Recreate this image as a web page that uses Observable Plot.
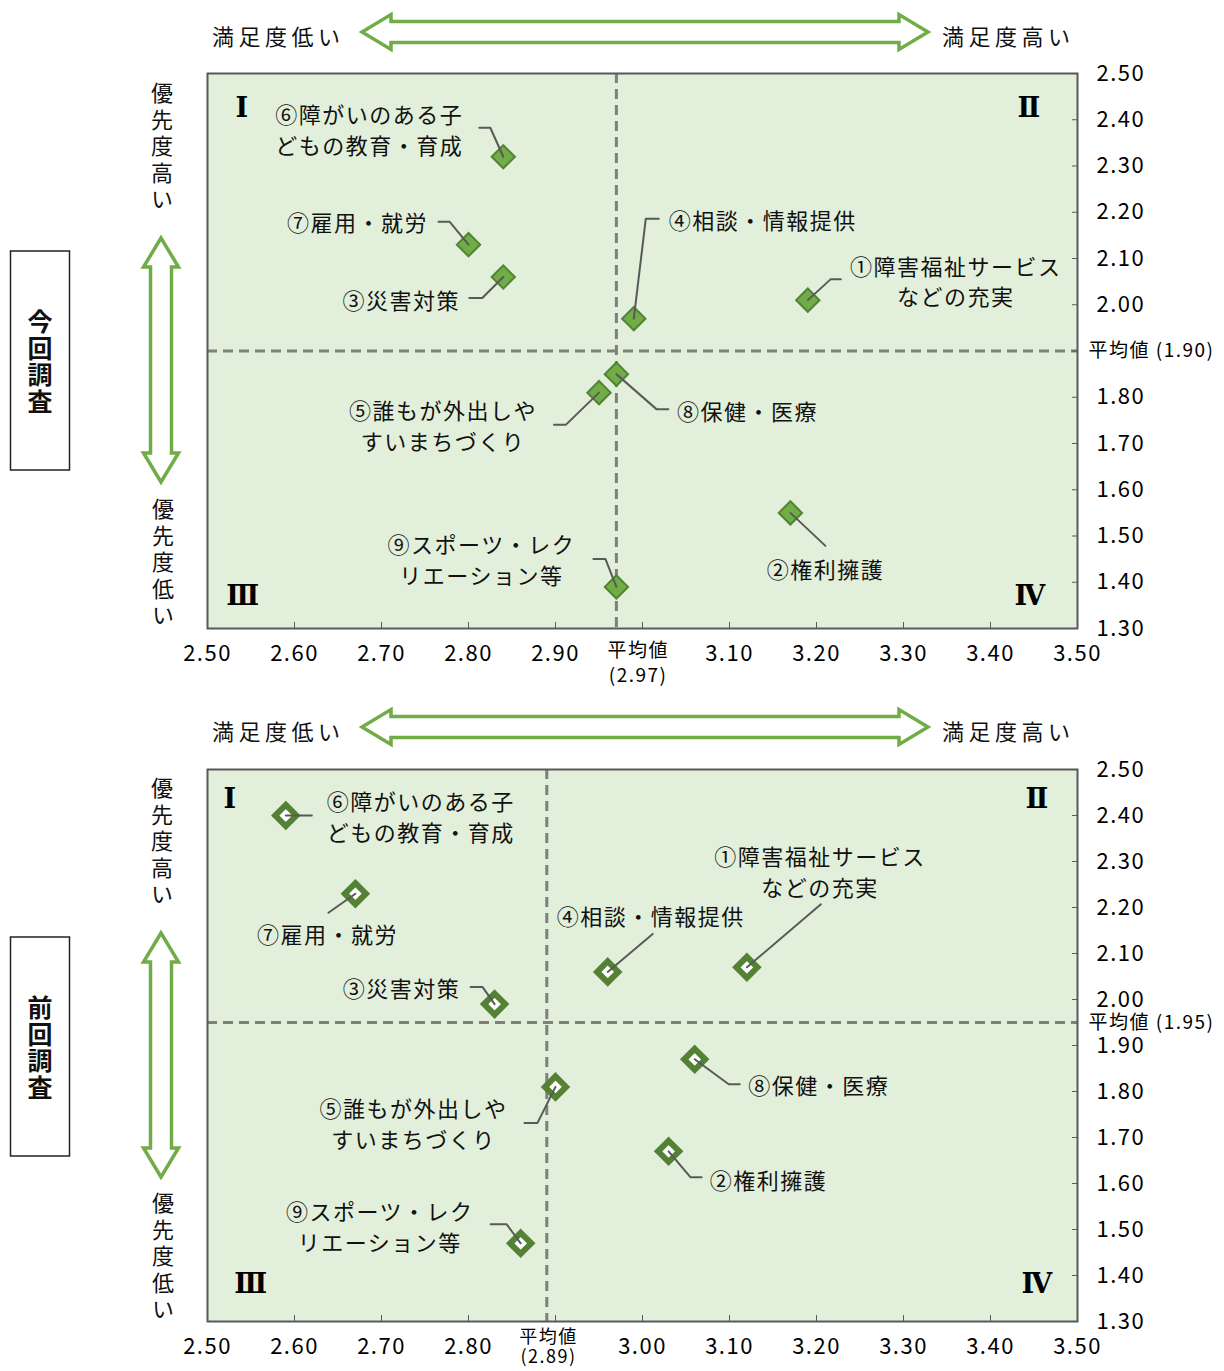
<!DOCTYPE html>
<html>
<head>
<meta charset="utf-8">
<script src="https://cdn.jsdelivr.net/npm/d3@7"></script>
<script src="https://cdn.jsdelivr.net/npm/@observablehq/plot@0.6"></script>
<style>
  body { margin: 0; background: #fff; }
  #page { position: relative; width: 1224px; height: 1371px; overflow: hidden; background: #fff;
          font-family: "Noto Sans CJK JP", sans-serif; }
  #page > svg { position: absolute; left: 0; }
  #page svg text { letter-spacing: 1.5px; }
</style>
</head>
<body>
<div id="page"></div>
<script>
// ---- data ----
const items = [
  "①障害福祉サービス\nなどの充実",
  "②権利擁護",
  "③災害対策",
  "④相談・情報提供",
  "⑤誰もが外出しや\nすいまちづくり",
  "⑥障がいのある子\nどもの教育・育成",
  "⑦雇用・就労",
  "⑧保健・医療",
  "⑨スポーツ・レク\nリエーション等"
];
// 今回調査 (current survey): satisfaction (x) and priority (y)
const currentSatisfaction = [3.19, 3.17, 2.84, 2.99, 2.95, 2.84, 2.80, 2.97, 2.97];
const currentPriority     = [2.01, 1.55, 2.06, 1.97, 1.81, 2.32, 2.13, 1.85, 1.39];
const currentMeans = [2.97, 1.90];   // [satisfaction mean, priority mean]
// 前回調査 (previous survey)
const previousSatisfaction = [3.12, 3.03, 2.83, 2.96, 2.90, 2.59, 2.67, 3.06, 2.86];
const previousPriority     = [2.07, 1.67, 1.99, 2.06, 1.81, 2.40, 2.23, 1.87, 1.47];
const previousMeans = [2.89, 1.95];
// axes
const xTicks = [2.5, 2.6, 2.7, 2.8, 2.9, 3.0, 3.1, 3.2, 3.3, 3.4, 3.5];
const yTicks = [1.3, 1.4, 1.5, 1.6, 1.7, 1.8, 1.9, 2.0, 2.1, 2.2, 2.3, 2.4, 2.5];
const quadrantNames = ["Ⅰ", "Ⅱ", "Ⅲ", "Ⅳ"];

// ---- layout (pixel offsets of labels / leader elbows relative to each point) ----
const currentLabelOffsets = [[148,-20],[35,55],[-102,22],[129,-99],[-156,32],[-134,-28],[-111,-23],[131,36],[-135,-28]];
const currentLeaders = [
  [[23,-21],[33,-21]], [[35,33]], [[-21,21],[-34,21]], [[12,-100],[25,-100]],
  [[-33,32],[-45,32]], [[-13,-29],[-24,-29]], [[-19,-23],[-30,-23]], [[40,35],[52,35]], [[-11,-28],[-23,-28]]
];
const previousLabelOffsets = [[73,-97],[100,28],[-93,-17],[43,-57],[-142,36],[135,0],[-28,39],[124,25],[-141,-18]];
const previousLeaders = [
  [[74,-63]], [[22,26],[33,26]], [[-12,-17],[-24,-17]], [[45,-38]],
  [[-18,36],[-31,36]], [[26,0]], [[-27,19]], [[34,25],[45,25]], [[-14,-19],[-30,-19]]
];

const FONT = '"Noto Sans CJK JP", "Noto Sans", sans-serif';
const W = 1224, ML = 207, MR = 147;
const xDomain = [2.5, 3.5], yDomain = [1.3, 2.5];

function makeChart(cfg) {
  const sx = Plot.scale({x: {domain: xDomain, range: [ML, W - MR]}});
  const sy = Plot.scale({y: {domain: yDomain, range: [cfg.height - cfg.marginBottom, cfg.marginTop]}});
  const at = (x, y, dx, dy) => ({x: sx.invert(sx.apply(x) + dx), y: sy.invert(sy.apply(y) + dy)});
  const rows = items.map((name, i) => ({name, x: cfg.sat[i], y: cfg.pri[i]}));
  const labels = rows.map((r, i) => ({text: r.name, ...at(r.x, r.y, ...cfg.labelOffsets[i])}));
  const leaders = rows.flatMap((r, i) =>
    [[0, 0], ...cfg.leaders[i]].map(([dx, dy]) => ({id: i, ...at(r.x, r.y, dx, dy)})));
  const fmt = d => d.toFixed(2);
  const skipFmt = v => d => (v != null && Math.abs(d - v) < 1e-6) ? "" : fmt(d);
  const q = cfg.quad;
  const anchors = ["top-left", "top-right", "bottom-left", "bottom-right"];
  const quadMarks = quadrantNames.map((name, i) => Plot.text([name], {
    text: d => d, frameAnchor: anchors[i], dx: q[i][0], dy: q[i][1],
    textAnchor: "middle", lineAnchor: "middle",
    fontFamily: "DejaVu Serif", fontWeight: "bold", fontSize: 27
  }));
  return Plot.plot({
    width: W, height: cfg.height,
    marginLeft: ML, marginRight: MR, marginTop: cfg.marginTop, marginBottom: cfg.marginBottom,
    x: {domain: xDomain}, y: {domain: yDomain},
    style: {fontFamily: FONT, fontSize: "22px", color: "#000", background: "none", overflow: "visible"},
    marks: [
      Plot.frame({fill: "#e2efda"}),
      Plot.ruleX([cfg.means[0]], {x: d => d, stroke: "#7f7f7f", strokeWidth: 3, strokeDasharray: "10,6"}),
      Plot.ruleY([cfg.means[1]], {y: d => d, stroke: "#7f7f7f", strokeWidth: 3, strokeDasharray: "10,6"}),
      Plot.axisX({ticks: xTicks, tickFormat: skipFmt(cfg.skipX), tickSize: -6, tickPadding: 23,
                  stroke: "#595959", label: null}),
      Plot.axisY({anchor: "right", ticks: yTicks, tickFormat: skipFmt(cfg.skipY), tickSize: -6, tickPadding: 25,
                  stroke: "#595959", label: null}),
      Plot.dot(rows, {x: "x", y: "y", symbol: "diamond2", r: cfg.r, fill: cfg.fill, stroke: "#548235", strokeWidth: cfg.sw}),
      Plot.line(leaders, {x: "x", y: "y", z: "id", stroke: "#595959", strokeWidth: 2}),
      Plot.text(labels, {x: "x", y: "y", text: "text", lineHeight: 1.4, fill: "#111"}),
      ...quadMarks,
      // mean labels
      Plot.text([cfg.means[1]], {y: d => d, frameAnchor: "right", dx: 11, textAnchor: "start",
                                  text: d => `平均値 (${d.toFixed(2)})`, fontSize: 19}),
      Plot.text([cfg.means[0]], {x: () => cfg.meanLabelX, frameAnchor: "bottom", dy: cfg.meanLabelDy, lineAnchor: "top",
                                  lineHeight: cfg.meanLineHeight, text: d => `平均値\n(${d.toFixed(2)})`,
                                  fontSize: cfg.meanFont}),
      Plot.frame({stroke: "#595959", strokeWidth: 2})
    ]
  });
}

const page = document.getElementById("page");

const chartCurrent = makeChart({
  sat: currentSatisfaction, pri: currentPriority, means: currentMeans,
  height: 695, marginTop: 73, marginBottom: 67,
  labelOffsets: currentLabelOffsets, leaders: currentLeaders,
  r: 10.5, fill: "#70ad47", sw: 2,
  skipX: 3.0, skipY: 1.9,
  quad: [[35, 35], [-48, 35], [36, -32], [-47, -32]],
  meanLabelX: 2.995, meanLabelDy: 11, meanLineHeight: 1.3, meanFont: 19
});
chartCurrent.style.top = "0px";
page.appendChild(chartCurrent);

const chartPrevious = makeChart({
  sat: previousSatisfaction, pri: previousPriority, means: previousMeans,
  height: 676, marginTop: 74, marginBottom: 50,
  labelOffsets: previousLabelOffsets, leaders: previousLeaders,
  r: 9.5, fill: "#ffffff", sw: 6,
  skipX: 2.9, skipY: null,
  quad: [[23, 30], [-40, 30], [44, -37], [-40, -37]],
  meanLabelX: 2.892, meanLabelDy: 8, meanLineHeight: 1.08, meanFont: 18
});
chartPrevious.style.top = "695px";
page.appendChild(chartPrevious);

// ---- decorations: arrows, side captions ----
const deco = d3.select(page).append("svg")
  .attr("width", W).attr("height", 1371)
  .style("top", "0px")
  .style("font-family", FONT);

function hArrow(x1, x2, cy) {
  const hl = 29, hh = 17.5, sh = 10.5;
  return d3.line()([[x1, cy], [x1 + hl, cy - hh], [x1 + hl, cy - sh], [x2 - hl, cy - sh], [x2 - hl, cy - hh],
    [x2, cy], [x2 - hl, cy + hh], [x2 - hl, cy + sh], [x1 + hl, cy + sh], [x1 + hl, cy + hh]]) + "Z";
}
function vArrow(cx, y1, y2) {
  const hl = 29, hh = 17.5, sh = 10.5;
  return d3.line()([[cx, y1], [cx + hh, y1 + hl], [cx + sh, y1 + hl], [cx + sh, y2 - hl], [cx + hh, y2 - hl],
    [cx, y2], [cx - hh, y2 - hl], [cx - sh, y2 - hl], [cx - sh, y1 + hl], [cx - hh, y1 + hl]]) + "Z";
}
const arrowStyle = s => s.attr("fill", "#fff").attr("stroke", "#70ad47").attr("stroke-width", 3.5).attr("stroke-linejoin", "miter");

// vertical (tategaki) text as one element
function vertText(str, cx, yTop, size, spacing, weight) {
  deco.append("text").attr("x", cx).attr("y", yTop)
    .style("writing-mode", "vertical-rl").style("text-orientation", "upright")
    .style("letter-spacing", spacing + "px")
    .attr("font-size", size).attr("font-weight", weight || "normal")
    .attr("fill", "#111").text(str);
}

function decorate(offset, boxTitle, vHighTop, vLowTop, vArr) {
  deco.append("path").attr("d", hArrow(362, 928, 32 + offset)).call(arrowStyle);
  deco.append("text").attr("x", 212).attr("y", 35 + offset).attr("dominant-baseline", "central")
    .attr("font-size", 22).style("letter-spacing", "4.5px").attr("fill", "#111").text("満足度低い");
  deco.append("text").attr("x", 942).attr("y", 35 + offset).attr("dominant-baseline", "central")
    .attr("font-size", 22).style("letter-spacing", "4.5px").attr("fill", "#111").text("満足度高い");
  deco.append("path").attr("d", vArrow(161, vArr[0], vArr[1])).call(arrowStyle);
  vertText("優先度高い", 162, vHighTop, 22, 4.5);
  vertText("優先度低い", 163, vLowTop, 22, 4.5);
  deco.append("rect").attr("x", 10.5).attr("y", boxTitle[1]).attr("width", 59).attr("height", 219)
    .attr("fill", "#fff").attr("stroke", "#222").attr("stroke-width", 1.5);
  vertText(boxTitle[0], 40, boxTitle[1] + 58, 25, 1.5, "bold");
}
decorate(0, ["今回調査", 251], 82, 498, [238, 482]);
decorate(695, ["前回調査", 937], 777, 1192, [933, 1177]);
</script>
</body>
</html>
